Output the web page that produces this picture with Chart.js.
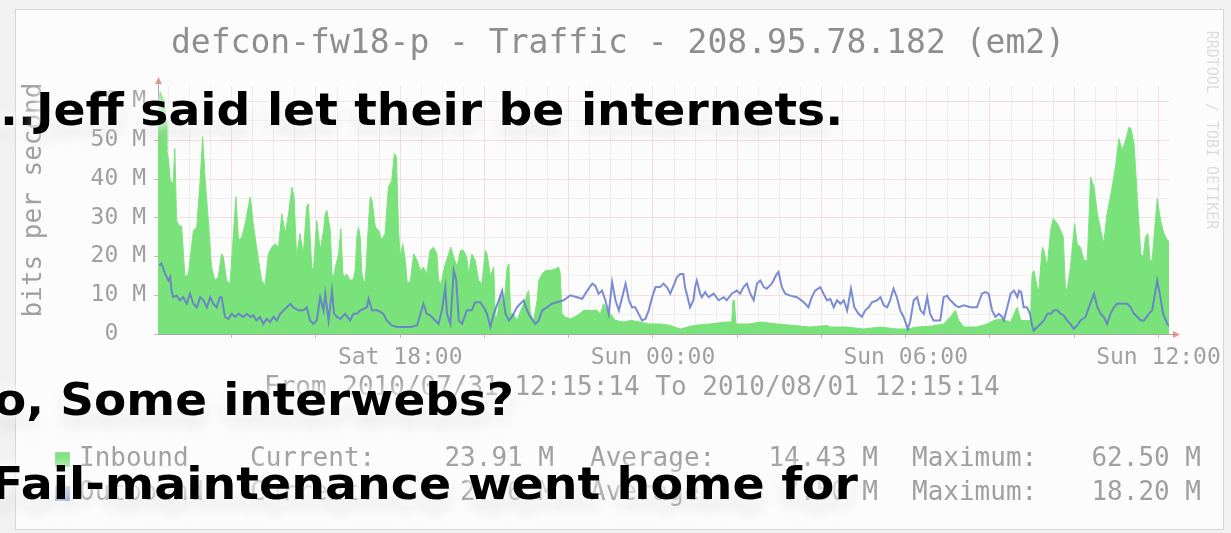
<!DOCTYPE html>
<html><head><meta charset="utf-8">
<script src="https://cdn.jsdelivr.net/npm/chart.js@4.4.1/dist/chart.umd.min.js"></script>
<style>
html,body{margin:0;padding:0;}
body{width:1231px;height:533px;overflow:hidden;background:#f1f1f1;position:relative;}
#frame{position:absolute;left:15px;top:9px;width:1207px;height:519px;border:1px solid #d6d6d6;background:#fcfcfc;}
#c{position:absolute;left:0;top:0;}
.mono{position:absolute;font-family:'DejaVu Sans Mono',monospace;color:#a0a0a0;white-space:pre;font-size:26px;line-height:26px;}
#title{font-size:33px;line-height:33px;color:#8e8e8e;left:0;width:1236px;text-align:center;top:25px;}
#ytitle{left:-100px;width:264px;text-align:center;top:187px;transform:rotate(-90deg);transform-origin:50% 50%;}
#wm{font-size:15px;line-height:16px;color:#dcdcdc;left:1102px;width:220px;text-align:center;top:122px;transform:rotate(90deg);transform-origin:50% 50%;}
.box{position:absolute;width:13px;height:13px;}
.cap{position:absolute;font-family:'DejaVu Sans',sans-serif;font-weight:bold;font-size:44px;line-height:44px;color:#000;white-space:pre;transform-origin:0 0;
 text-shadow:0 0 8px rgba(255,255,255,1),0 0 18px rgba(255,255,255,0.95),0 10px 18px rgba(0,0,0,0.14);}
</style>
</head><body>
<div id="frame"></div>
<canvas id="c" width="1231" height="533"></canvas>
<div class="mono" id="title">defcon-fw18-p - Traffic - 208.95.78.182 (em2)</div>
<div class="mono" id="ytitle">bits per second</div>
<div class="mono" id="wm">RRDTOOL / TOBI OETIKER</div>
<div class="mono" style="left:264px;top:373px;">From 2010/07/31 12:15:14 To 2010/08/01 12:15:14</div>
<div class="box" style="left:55px;top:452px;background:#7ae27a;border:1px solid #9ad89a;"></div>
<div class="box" style="left:55px;top:486px;background:#7f90cc;border:1px solid #9aa6d4;"></div>
<div class="mono" style="left:79px;top:444px;">Inbound</div>
<div class="mono" style="left:79px;top:478px;">Outbound</div>
<div class="mono" style="left:250px;top:444px;">Current:</div>
<div class="mono" style="left:250px;top:478px;">Current:</div>
<div class="mono" style="right:677px;top:444px;">23.91 M</div>
<div class="mono" style="right:677px;top:478px;">2.06 M</div>
<div class="mono" style="left:590px;top:444px;">Average:</div>
<div class="mono" style="left:590px;top:478px;">Average:</div>
<div class="mono" style="right:353px;top:444px;">14.43 M</div>
<div class="mono" style="right:353px;top:478px;">7.50 M</div>
<div class="mono" style="left:912px;top:444px;">Maximum:</div>
<div class="mono" style="left:912px;top:478px;">Maximum:</div>
<div class="mono" style="right:30px;top:444px;">62.50 M</div>
<div class="mono" style="right:30px;top:478px;">18.20 M</div>

<div class="cap" id="cap1" style="top:88px;"><span id="cap1p">...</span>Jeff said let their be internets.</div>
<div class="cap" id="cap2" style="top:378px;">o, Some interwebs?</div>
<div class="cap" id="cap3" style="top:462px;">Fail-maintenance went home for</div>

<script>
// ---- data (time in hours since Sat 2010/07/31 12:15, values in Mbit/s) ----
const inboundHours = [
 0.00,0.05,0.15,0.19,0.21,0.25,0.29,0.36,0.40,0.44,0.52,0.56,0.64,0.72,0.84,0.92,1.00,1.06,1.12,1.20,1.27,1.35,1.43,1.51,1.55,1.63,1.71,1.77,1.85,1.91,1.99,2.07,2.19,2.26,2.34,2.46,2.54,2.62,2.70,2.78,2.86,2.94,3.02,3.10,3.18,3.23,3.29,3.37,3.45,3.53,3.57,3.65,3.69,3.77,
 3.85,3.93,3.97,4.01,4.09,4.13,4.17,4.21,4.29,4.34,4.39,4.44,4.48,4.56,4.64,4.68,4.72,4.76,4.80,4.84,4.88,4.92,5.00,5.04,5.08,5.16,5.24,5.31,5.39,5.47,5.55,5.61,5.66,5.71,5.75,5.81,5.87,5.92,5.99,6.07,6.15,6.23,6.30,6.38,6.46,6.54,6.62,6.66,6.72,6.80,6.90,6.95,7.02,7.10,7.18,7.25,7.33,7.37,7.45,7.53,7.61,7.69,7.77,7.81,
 7.89,7.97,8.01,8.06,8.13,8.21,8.29,8.33,8.37,8.44,8.52,8.64,8.72,8.76,8.80,8.84,8.92,9.00,9.04,9.12,9.20,9.32,9.43,9.51,9.55,9.59,9.67,9.79,9.95,10.11,10.27,10.42,10.50,10.58,10.66,10.74,10.86,11.06,11.22,11.45,11.65,11.85,
 11.92,12.16,12.40,12.71,13.11,13.50,13.62,13.65,13.68,13.72,14.04,14.30,14.70,15.09,15.48,15.88,
 15.96,16.36,16.75,17.15,17.54,17.78,18.02,18.34,18.65,18.81,18.93,19.01,19.13,19.44,19.68,19.84,
 20.00,20.24,20.36,20.40,20.48,20.63,20.71,20.75,20.79,20.87,20.91,20.99,21.03,21.11,21.19,21.25,21.35,21.43,21.49,21.54,21.58,21.66,21.76,21.82,21.90,21.98,22.06,22.14,22.22,22.30,22.38,22.45,22.53,22.61,22.73,22.81,22.89,22.97,23.05,23.10,23.17,23.25,23.33,23.39,23.44,23.50,23.55,23.60,23.72,23.80,23.88,23.96,24.00
];
const inboundValues = [
 58.0,62.5,60.0,55.0,47.4,44.8,39.7,38.8,47.8,29.3,27.6,28.0,14.7,15.5,26.7,27.6,39.7,50.9,39.7,28.5,17.3,13.8,14.7,20.7,19.9,13.8,13.0,22.4,35.4,24.2,25.0,28.5,35.4,28.5,22.4,13.8,12.5,20.7,22.4,23.3,22.4,31.1,25.9,31.1,37.9,35.4,19.9,25.9,20.7,32.8,33.6,17.3,16.4,29.3,
 21.6,26.7,31.1,31.9,26.7,15.5,14.7,17.3,20.7,27.2,15.5,14.7,15.5,13.8,14.2,16.4,25.0,27.6,25.0,15.5,13.8,13.4,29.3,35.4,34.5,27.6,26.7,24.2,25.9,37.9,39.7,46.6,45.7,26.7,19.9,23.3,19.0,13.0,13.8,20.7,19.0,16.4,17.3,15.5,21.6,22.4,20.7,13.8,13.0,17.3,20.7,22.4,19.9,17.3,21.6,21.6,19.9,15.5,20.7,19.0,13.8,13.0,21.6,20.7,
 15.0,17.3,3.5,5.2,10.4,6.9,17.3,18.1,5.2,5.2,3.5,6.9,8.7,10.4,11.2,5.2,3.5,8.7,13.8,15.5,16.4,16.4,16.8,17.3,15.5,5.2,4.4,3.9,4.8,6.1,6.1,6.1,5.2,7.8,6.1,5.2,3.5,3.1,3.5,3.1,2.6,2.6,
 2.6,2.2,1.3,2.2,2.6,3.1,3.1,8.7,8.7,2.6,2.6,3.1,2.6,2.2,1.8,2.2,
 1.8,1.8,1.3,1.8,1.3,1.3,1.8,2.0,2.6,4.4,6.1,3.5,1.8,1.8,2.6,3.5,
 3.9,3.1,6.1,6.9,3.5,3.5,3.5,15.5,16.4,12.1,11.2,22.4,21.6,17.3,26.7,29.8,28.5,26.7,25.0,12.1,11.2,17.3,28.5,23.3,22.4,19.0,19.0,40.5,37.9,31.1,26.7,23.3,31.1,35.4,43.1,50.4,47.4,50.0,53.4,53.0,49.1,34.5,20.7,19.9,25.0,25.9,19.0,19.0,34.9,29.3,25.9,24.2,23.9
];
const outboundHours = [
 0.03,0.08,0.17,0.25,0.29,0.32,0.36,0.44,0.52,0.60,0.68,0.76,0.84,0.92,1.00,1.08,1.16,1.24,1.31,1.39,1.47,1.51,1.59,1.67,1.75,1.83,1.91,2.03,2.11,2.19,2.26,2.34,2.42,2.50,2.58,2.66,2.74,2.82,2.90,2.98,3.06,3.14,3.21,3.33,3.45,3.53,3.61,3.69,3.77,
 3.85,3.93,3.97,4.05,4.13,4.18,4.25,4.33,4.44,4.56,4.64,4.72,4.80,4.96,5.00,5.08,5.20,5.28,5.35,5.43,5.55,5.67,5.83,5.99,6.15,6.30,6.38,6.46,6.58,6.66,6.74,6.82,6.86,6.94,7.02,7.08,7.14,7.22,7.33,7.45,7.53,7.65,7.73,7.81,
 7.89,7.97,8.09,8.17,8.25,8.33,8.40,8.52,8.60,8.68,8.76,8.84,8.96,9.04,9.12,9.24,9.35,9.47,9.63,9.79,9.95,10.07,10.19,10.31,10.38,10.46,10.54,10.62,10.70,10.78,10.86,10.94,11.02,11.10,11.18,11.25,11.33,11.41,11.49,11.57,11.65,11.73,11.81,
 11.92,12.00,12.08,12.16,12.24,12.32,12.40,12.47,12.51,12.59,12.63,12.71,12.75,12.79,12.87,12.91,12.99,13.07,13.19,13.31,13.43,13.50,13.62,13.74,13.82,13.90,13.98,14.06,14.14,14.22,14.30,14.38,14.45,14.57,14.69,14.73,14.81,14.89,15.01,15.17,15.33,15.44,15.52,15.60,15.72,15.80,15.88,
 15.96,16.04,16.12,16.20,16.28,16.36,16.45,16.53,16.63,16.71,16.79,16.87,16.95,17.07,17.15,17.23,17.31,17.38,17.46,17.54,17.62,17.70,17.80,17.86,17.94,18.02,18.10,18.18,18.26,18.33,18.41,18.49,18.57,18.65,18.73,18.81,18.93,19.01,19.13,19.29,19.44,19.56,19.64,19.72,19.80,19.88,19.96,
 20.04,20.08,20.16,20.24,20.32,20.40,20.44,20.49,20.55,20.63,20.70,20.75,20.79,20.87,20.95,21.03,21.11,21.19,21.27,21.35,21.43,21.50,21.58,21.66,21.74,21.82,21.90,22.02,22.10,22.22,22.30,22.38,22.45,22.53,22.61,22.69,22.77,22.89,23.01,23.09,23.17,23.25,23.33,23.41,23.52,23.60,23.68,23.72,23.78,23.86,23.96,24.00
];
const outboundValues = [
 17.7,18.2,15.5,13.8,14.7,11.2,9.5,9.9,8.7,9.5,7.8,10.4,7.8,6.9,9.5,8.7,6.9,9.5,7.8,6.9,9.5,9.5,4.4,3.9,5.2,4.4,5.2,4.4,5.2,4.4,4.8,3.5,4.4,2.6,3.9,3.1,4.4,3.5,5.2,6.1,6.9,7.8,6.9,6.1,6.1,6.9,3.5,2.6,3.5,
 9.5,6.0,10.4,3.5,11.2,5.2,4.4,3.9,5.2,3.5,5.2,5.2,6.1,6.9,9.1,6.1,6.1,5.7,5.2,3.5,2.2,1.8,1.8,1.8,2.2,7.8,5.2,4.8,3.5,2.6,6.1,12.1,5.2,2.6,16.4,13.8,3.5,2.6,6.1,6.1,8.2,8.2,6.9,5.2,
 1.8,5.2,8.7,11.2,5.2,3.5,4.4,6.9,7.8,8.7,6.1,4.4,2.6,3.5,6.1,6.9,7.8,8.2,8.7,10.0,9.5,9.1,11.2,13.0,12.5,10.4,11.2,8.7,5.2,13.4,8.7,6.1,9.5,13.0,8.7,6.9,6.9,5.2,3.5,3.9,6.1,9.5,12.1,
 12.1,13.0,12.1,10.4,12.5,14.7,15.5,15.5,12.1,8.7,6.9,8.7,12.1,13.8,10.4,9.5,10.8,9.5,10.4,8.7,9.5,8.7,10.4,11.2,10.4,12.1,13.0,10.4,8.7,13.0,13.8,12.1,11.7,13.0,15.5,16.0,12.1,10.4,9.9,9.5,8.2,6.9,9.5,11.2,12.1,10.4,8.7,
 9.0,6.9,8.7,7.8,8.7,6.1,11.7,6.9,5.2,4.4,6.1,6.9,8.2,8.7,9.5,7.4,6.9,8.7,11.7,9.5,6.1,4.4,1.3,3.5,8.7,9.5,6.1,5.2,9.5,5.2,3.5,3.5,3.5,9.5,9.9,8.7,7.4,6.9,7.4,6.9,6.9,10.4,10.8,10.4,6.1,4.4,5.2,
 4.4,3.5,6.9,10.4,11.2,9.5,11.2,10.8,6.9,6.9,5.2,2.2,0.9,1.8,2.6,3.5,5.2,5.2,6.1,6.1,5.2,4.8,3.5,2.6,1.3,2.2,3.5,4.4,6.9,10.4,6.9,5.2,4.4,2.6,5.2,6.9,7.8,7.8,7.8,6.9,5.2,4.4,3.5,3.5,5.2,6.1,11.2,13.8,10.4,5.2,2.6,2.1
];
const tickHours  = [5.75, 11.75, 17.75, 23.75];
const tickLabels = ['Sat 18:00', 'Sun 00:00', 'Sun 06:00', 'Sun 12:00'];
const yTickValues = [0, 10, 20, 30, 40, 50, 60];
const yTickLabels = ['0  ', '10 M', '20 M', '30 M', '40 M', '50 M', '60 M'];

// grid positions (every 30 min, every 5 M)
const gridHours = [];
for (let h = 0.25; h < 24; h += 0.5) gridHours.push(Math.round(h * 100) / 100);
const gridValues = [];
for (let v = 0; v <= 60; v += 5) gridValues.push(v);

function toPoints(hs, vs){ const n=Math.min(hs.length, vs.length); const out=[]; for(let i=0;i<n;i++) out.push({x:hs[i], y:vs[i]}); return out; }
const isMajorX = v => { const k=(v-1.75)/2; return Math.abs(k-Math.round(k))<1e-6; };

const GREEN = 'rgb(122,226,122)';
const BLUE = 'rgba(100,120,205,0.85)';

const arrows = {
  id:'arrows',
  afterDatasetsDraw(chart){
    const {ctx, chartArea:a} = chart;
    ctx.save();
    ctx.strokeStyle='rgba(180,165,165,1)'; ctx.lineWidth=1;
    ctx.beginPath(); ctx.moveTo(a.right, a.bottom+0.5); ctx.lineTo(a.right+5, a.bottom+0.5); ctx.stroke();
    ctx.beginPath(); ctx.moveTo(a.left+0.5, a.top); ctx.lineTo(a.left+0.5, a.top-3); ctx.stroke();
    ctx.fillStyle='rgba(210,110,110,0.7)';
    ctx.beginPath(); ctx.moveTo(a.right+4, a.bottom-3); ctx.lineTo(a.right+11, a.bottom+0.5); ctx.lineTo(a.right+4, a.bottom+4); ctx.closePath(); ctx.fill();
    ctx.beginPath(); ctx.moveTo(a.left-3, a.top-2); ctx.lineTo(a.left+0.5, a.top-9); ctx.lineTo(a.left+4, a.top-2); ctx.closePath(); ctx.fill();
    ctx.restore();
  }
};

new Chart(document.getElementById('c'), {
  type:'line',
  data:{ datasets:[
    { label:'Outbound', data:toPoints(outboundHours, outboundValues), borderColor:BLUE, borderWidth:2, pointRadius:0, fill:false, tension:0, order:1 },
    { label:'Inbound', data:toPoints(inboundHours, inboundValues), borderColor:GREEN, backgroundColor:GREEN, borderWidth:1, pointRadius:0, fill:'origin', tension:0, order:2 }
  ]},
  options:{
    responsive:false, animation:false, devicePixelRatio:1,
    layout:{ padding:{ left:0, top:86, right:62, bottom:150 } },
    plugins:{ legend:{display:false}, tooltip:{enabled:false}, title:{display:false} },
    scales:{
      x:{
        type:'linear', min:0, max:24,
        afterBuildTicks:s=>{ s.ticks = gridHours.map(v=>({value:v})); },
        afterFit:s=>{ s.height = 49; },
        ticks:{ autoSkip:false, maxRotation:0, minRotation:0, padding:6, color:'#a0a0a0',
          font:{family:'DejaVu Sans Mono', size:23},
          callback:v=>{ const i=tickHours.findIndex(t=>Math.abs(t-v)<1e-6); return i<0?'':tickLabels[i]; } },
        grid:{ color:c=>isMajorX(c.tick.value)?'rgba(228,175,175,0.38)':'rgba(205,205,205,0.3)', lineWidth:1, tickLength:4,
          tickColor:c=>isMajorX(c.tick.value)?'rgba(200,150,150,0.7)':'rgba(0,0,0,0)' },
        border:{ display:true, color:'rgba(175,165,165,1)', width:1 }
      },
      y:{
        min:0, max:64,
        afterBuildTicks:s=>{ s.ticks = gridValues.map(v=>({value:v})); },
        afterFit:s=>{ s.width = 158; },
        ticks:{ autoSkip:false, padding:8, color:'#a0a0a0', font:{family:'DejaVu Sans Mono', size:23},
          callback:v=>{ const i=yTickValues.indexOf(v); return i<0?'':yTickLabels[i]; } },
        grid:{ color:c=>(c.tick.value%10===0)?'rgba(228,175,175,0.38)':'rgba(205,205,205,0.25)', lineWidth:1, tickLength:4,
          tickColor:c=>(c.tick.value%10===0)?'rgba(200,150,150,0.7)':'rgba(0,0,0,0)' },
        border:{ display:true, color:'rgba(175,165,165,1)', width:1 }
      }
    }
  },
  plugins:[arrows]
});

// fit caption widths to the reference spans
function fit(id, startX, endX, prefixId){
  const el=document.getElementById(id);
  const w=el.offsetWidth;
  const pw=prefixId?document.getElementById(prefixId).offsetWidth:0;
  const s=(endX-startX)/(w-pw);
  el.style.transform='scaleX('+s+')';
  el.style.left=(startX-pw*s)+'px';
}
fit('cap1', 36, 843, 'cap1p');
fit('cap2', -6, 514);
fit('cap3', -9, 858);
</script>
</body></html>
